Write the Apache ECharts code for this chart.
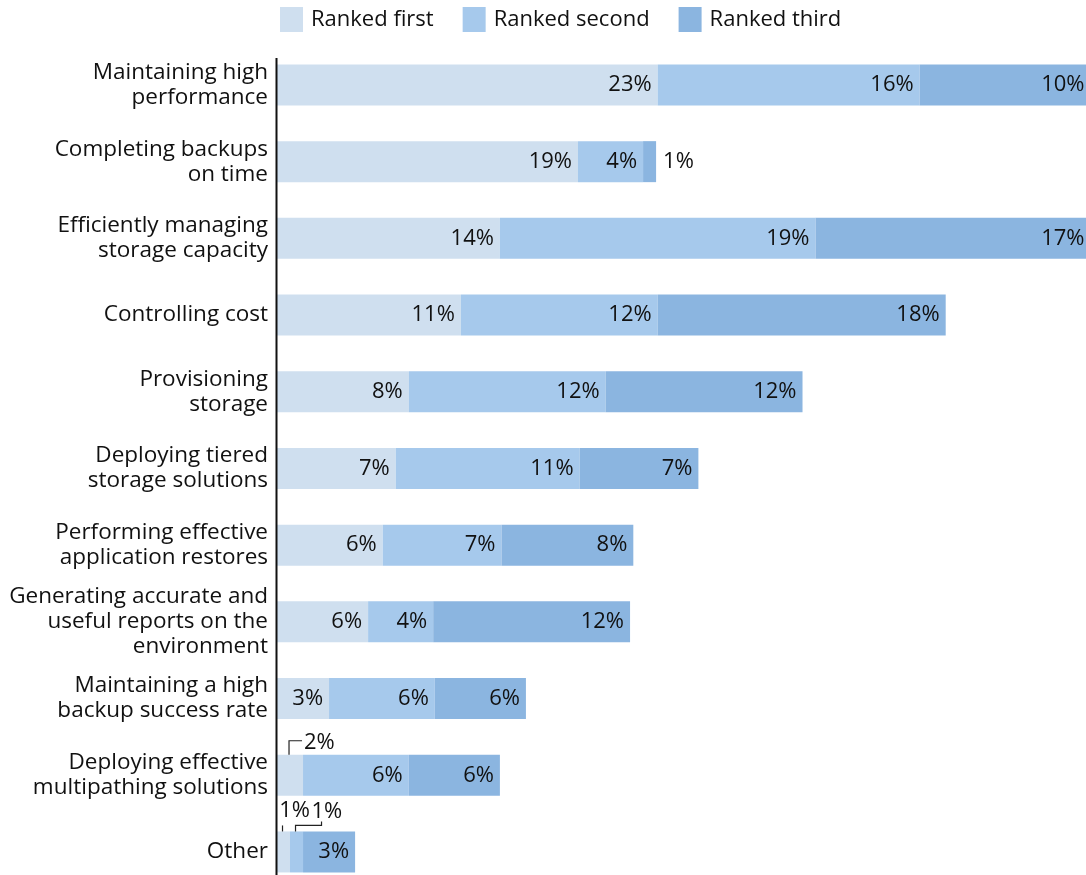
<!DOCTYPE html>
<html>
<head>
<meta charset="utf-8">
<script src="https://cdn.jsdelivr.net/npm/echarts@6/dist/echarts.min.js"></script>
<style>
  html, body { margin: 0; padding: 0; background: #fff; }
  #chart { width: 1086px; height: 875px; }
</style>
</head>
<body>
<div id="chart"></div>
<script>
// categories top to bottom
const categories = [
  'Maintaining high\nperformance',
  'Completing backups\non time',
  'Efficiently managing\nstorage capacity',
  'Controlling cost',
  'Provisioning\nstorage',
  'Deploying tiered\nstorage solutions',
  'Performing effective\napplication restores',
  'Generating accurate and\nuseful reports on the\nenvironment',
  'Maintaining a high\nbackup success rate',
  'Deploying effective\nmultipathing solutions',
  'Other'
]
const seriesNames = ['Ranked first', 'Ranked second', 'Ranked third']

// bar lengths (percent of respondents)
const rankedFirst = [23.4, 18.5, 13.7, 11.3, 8.1, 7.3, 6.5, 5.6, 3.2, 1.6, 0.8]
const rankedSecond = [16.1, 4.0, 19.4, 12.1, 12.1, 11.3, 7.3, 4.0, 6.5, 6.5, 0.8]
const rankedThird = [10.5, 0.8, 16.9, 17.7, 12.1, 7.3, 8.1, 12.1, 5.6, 5.6, 3.2]

// printed labels
const firstLabels = ['23%', '19%', '14%', '11%', '8%', '7%', '6%', '6%', '3%', '2%', '1%']
const secondLabels = ['16%', '4%', '19%', '12%', '12%', '11%', '7%', '4%', '6%', '6%', '1%']
const thirdLabels = ['10%', '1%', '17%', '18%', '12%', '7%', '8%', '12%', '6%', '6%', '3%']

// labels drawn outside the bar with a leader: [row, segment, kind]
const callouts = [
  [9, 0, 'elbow'],
  [10, 0, 'tick'],
  [10, 1, 'bracket']
]

const colors = ['#cfdfef', '#a6c9ec', '#8bb5e0']
const font = '"Open Sans", "Noto Sans", sans-serif'
const fontSize = 22

const values = [rankedFirst, rankedSecond, rankedThird]
const labels = [firstLabels, secondLabels, thirdLabels]

function isCallout (row, seg) {
  return callouts.some(c => c[0] === row && c[1] === seg)
}

function barData (seg) {
  return values[seg].map((v, i) => {
    const item = { value: v }
    if (isCallout(i, seg)) {
      item.label = { show: false }
    } else if (seg === 2 && i === 1) {
      item.label = { position: 'right', distance: 7 }
    }
    return item
  })
}

const barSeries = seriesNames.map((name, seg) => ({
  name: name,
  type: 'bar',
  stack: 'rank',
  barWidth: 41,
  itemStyle: { color: colors[seg] },
  label: {
    show: true,
    position: 'insideRight',
    distance: 6,
    color: '#111',
    fontFamily: font,
    fontSize: fontSize,
    formatter: p => labels[seg][p.dataIndex]
  },
  emphasis: { disabled: true },
  data: barData(seg)
}))

// callout leader lines and texts, placed from the stacked segment positions
const calloutData = callouts.map(c => {
  const row = c[0]
  const seg = c[1]
  let start = 0
  for (let k = 0; k < seg; k++) start += values[k][row]
  return [start, start + values[seg][row], row, seg, labels[seg][row], c[2]]
})

const calloutSeries = {
  type: 'custom',
  silent: true,
  data: calloutData,
  encode: { x: [0, 1], y: 2 },
  z: 5,
  renderItem (params, api) {
    const s = api.value(0)
    const e = api.value(1)
    const row = api.value(2)
    const text = calloutData[params.dataIndex][4]
    const kind = calloutData[params.dataIndex][5]
    const p0 = api.coord([(s + e) / 2, row])
    const x = p0[0] - 1
    const top = p0[1] - 20.5
    const line = { stroke: '#222', lineWidth: 1.2, fill: null }
    let points
    let tx, ty, align
    if (kind === 'elbow') {
      points = [[x, top], [x, top - 14], [x + 13, top - 14]]
      tx = x + 15; ty = top - 12; align = 'left'
    } else if (kind === 'tick') {
      points = [[x, top], [x, top - 6]]
      tx = x + 12; ty = top - 21; align = 'center'
    } else {
      points = [[x, top], [x, top - 6], [x + 26, top - 6], [x + 26, top - 10]]
      tx = x + 16; ty = top - 20; align = 'left'
    }
    return {
      type: 'group',
      children: [
        { type: 'polyline', shape: { points: points }, style: line },
        {
          type: 'text',
          style: {
            text: text, x: tx, y: ty, align: align, verticalAlign: 'middle',
            fill: '#111', font: fontSize + 'px ' + font
          }
        }
      ]
    }
  }
}

const chart = echarts.init(document.getElementById('chart'))
chart.setOption({
  animation: false,
  color: colors,
  legend: {
    left: 280,
    top: 7,
    padding: 0,
    itemWidth: 23,
    itemHeight: 25,
    itemGap: 29,
    icon: 'rect',
    selectedMode: false,
    data: seriesNames,
    textStyle: { fontFamily: font, fontSize: 22, color: '#111', padding: [0, 0, 2, 3] }
  },
  grid: { left: 277, top: 46.6, width: 813.5, height: 843.7, containLabel: false, outerBoundsMode: 'none' },
  xAxis: {
    type: 'value',
    min: 0,
    max: 50,
    show: false
  },
  yAxis: {
    type: 'category',
    inverse: true,
    data: categories,
    axisTick: { show: false },
    axisLine: { show: false },
    axisLabel: {
      margin: 9,
      align: 'right',
      fontFamily: font,
      fontSize: 22.5,
      lineHeight: 25,
      color: '#111'
    }
  },
  series: barSeries.concat([calloutSeries])
})

// vertical axis rule at zero, from just above the first bar to the bottom
const x0 = chart.convertToPixel({ xAxisIndex: 0 }, 0)
const yTop = chart.convertToPixel({ yAxisIndex: 0 }, 0) - 27
chart.setOption({
  graphic: [{
    type: 'line',
    shape: { x1: x0 - 0.5, y1: yTop, x2: x0 - 0.5, y2: 875 },
    style: { stroke: '#111', lineWidth: 2 },
    z: 10
  }]
})
</script>
</body>
</html>
